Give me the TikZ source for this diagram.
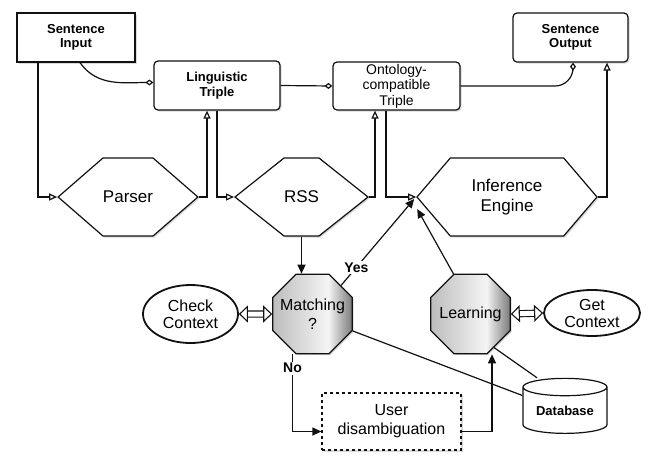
\documentclass[tikz,border=0pt]{standalone}
\usepackage{fontspec}
\setmainfont{Liberation Sans}
\usetikzlibrary{arrows.meta,shapes.geometric,shapes.symbols,shadows}
\definecolor{linecolor}{HTML}{111111}
\definecolor{octaleft}{HTML}{BDBDBD}
\definecolor{octamid}{HTML}{F4F4F4}
\definecolor{octaright}{HTML}{7A7A7A}
\pgfdeclarehorizontalshading{octashade}{100bp}{color(0bp)=(octaleft); color(25bp)=(octaleft); color(60bp)=(octamid); color(75bp)=(octaright); color(100bp)=(octaright)}
\tikzset{
  data box/.style={
    rectangle,
    draw=linecolor,
    fill=white,
    line width=1.2pt,
    minimum width=118pt,
    minimum height=49pt,
    inner sep=0pt,
    align=center,
    font=\bfseries\fontsize{13}{14.5}\selectfont,
    drop shadow={shadow xshift=1.5pt,shadow yshift=-1.5pt,opacity=0.3}
  },
  process/.style={
    signal,
    signal to=west and east,
    draw=linecolor,
    fill=white,
    line width=1.2pt,
    minimum height=78pt,
    inner sep=0pt,
    align=center,
    font=\fontsize{17}{20}\selectfont,
    drop shadow={shadow xshift=1.5pt,shadow yshift=-1.5pt,opacity=0.3}
  },
  decision/.style={
    regular polygon,
    regular polygon sides=8,
    draw=linecolor,
    shading=octashade,
    line width=1.2pt,
    minimum size=86pt,
    inner sep=-10pt,
    align=center,
    font=\fontsize{16}{19}\selectfont,
    drop shadow={shadow xshift=1.5pt,shadow yshift=-1.5pt,opacity=0.3}
  },
  context/.style={
    ellipse,
    draw=linecolor,
    fill=white,
    line width=1.8pt,
    inner sep=0pt,
    align=center,
    font=\fontsize{16}{17}\selectfont
  },
  store/.style={
    cylinder,
    shape border rotate=90,
    aspect=0.3,
    draw=linecolor,
    fill=white,
    line width=1.2pt,
    minimum width=84pt,
    minimum height=55pt,
    inner sep=0pt,
    font=\bfseries\fontsize{13}{14}\selectfont
  },
  flow/.style={
    draw=linecolor,
    line width=1.2pt,
    -{Triangle[length=9pt,width=8pt]}
  },
  hollow/.style={
    draw=linecolor,
    line width=1.2pt,
    -{Triangle[open,length=8pt,width=7pt]}
  },
  part of/.style={
    draw=linecolor,
    line width=1.2pt,
    -{Diamond[open,length=8pt,width=6pt]}
  },
  plain link/.style={
    draw=linecolor,
    line width=1.2pt
  },
  context link/.style={
    draw=linecolor,
    double=white,
    double distance=5pt,
    line width=1.1pt,
    {Triangle[open,length=9pt,width=17pt]}-{Triangle[open,length=9pt,width=17pt]}
  },
  branch label/.style={
    font=\bfseries\fontsize{14}{14}\selectfont,
    fill=white,
    inner sep=1.5pt
  }
}

\begin{document}
\begin{tikzpicture}[x=1pt,y=1pt]
  \useasboundingbox (0,0) rectangle (654,-467);

  \node[data box] (sin) at (76,-37.5) {Sentence\\Input};
  \node[data box,rounded corners=4pt,minimum width=126pt] (ling) at (217,-85.5) {Linguistic\\Triple};
  \node[data box,rounded corners=4pt,minimum width=127pt,minimum height=48pt,
    font=\fontsize{14}{15.5}\selectfont] (onto) at (396.5,-86) {Ontology-\\compatible\\Triple};
  \node[data box,rounded corners=4pt,minimum width=115pt] (sout) at (570.5,-37.5) {Sentence\\Output};

  \node[process,minimum width=138pt,signal pointer angle=82] (parser) at (128,-197) {Parser};
  \node[process,minimum width=125pt,signal pointer angle=77] (rss) at (301.5,-197) {RSS};
  \node[process,minimum width=180pt,signal pointer angle=99] (infer) at (507,-197) {Inference\\Engine};

  \node[decision] (match) at (312.5,-314) {Matching\\?};
  \node[decision] (learn) at (470.5,-314) {Learning};
  \node[context,minimum width=95pt,minimum height=58pt] (check) at (190.5,-314) {Check\\Context};
  \node[context,minimum width=96pt,minimum height=46pt] (getctx) at (592,-313) {Get\\Context};

  \node[data box,dashed,minimum width=139pt,minimum height=57pt,
    font=\fontsize{16}{19}\selectfont] (user) at (391.5,-421.5) {User\\disambiguation};
  \node[store] (db) at (565,-410.5) {Database};

  \draw[part of] ([xshift=4pt]sin.south) to[out=-55,in=180] ([yshift=3pt]ling.west);
  \draw[part of] (ling.east) -- (onto.west);
  \draw[part of,rounded corners=18pt] (onto.east) -| ([xshift=2.5pt]sout.south);

  \draw[hollow] ([xshift=-38pt]sin.south) |- (parser.west);
  \draw[hollow] (parser.east) -| ([xshift=-10pt]ling.south);
  \draw[hollow] (ling.south) |- (rss.west);
  \draw[hollow] (rss.east) -| ([xshift=-21.5pt]onto.south);
  \draw[hollow] ([xshift=-10.5pt]onto.south) |- (infer.west);
  \draw[hollow] (infer.east) -| ([xshift=36.5pt]sout.south);

  \draw[flow] (rss.south) -- (rss.south |- match.north);
  \draw[flow] (match.45) -- node[branch label,pos=0.21] {Yes} ([shift={(-2pt,-2pt)}]infer.west);
  \draw[flow] (learn.113) -- ([shift={(1pt,-12pt)}]infer.west);
  \draw[flow] ([xshift=-20pt]match.south) |- node[branch label,pos=0.09] {No} ([yshift=-10pt]user.west);
  \draw[flow] ([yshift=-10pt]user.east) -| ([xshift=21.5pt]learn.south);

  \draw[context link] (check.east) -- (match.west);
  \draw[context link] (learn.east) -- (getctx.west);

  \draw[plain link] ([yshift=-17pt]match.east) -- ([yshift=15pt]db.west);
  \draw[plain link] (learn.-55) -- ([xshift=-28pt]db.north);
\end{tikzpicture}
\end{document}
